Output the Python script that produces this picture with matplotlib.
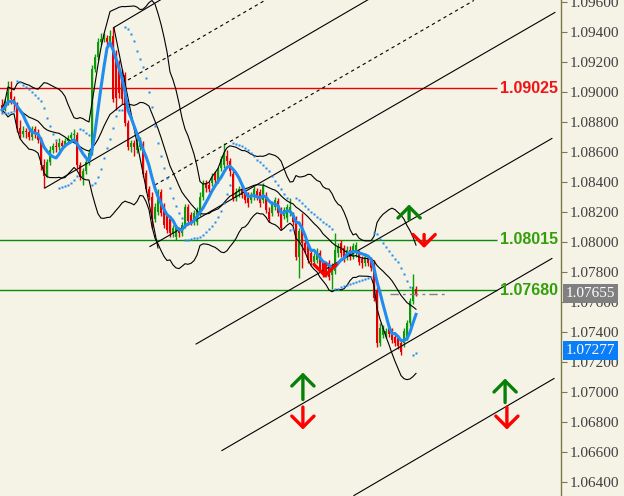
import numpy as np
import pandas as pd
import matplotlib.pyplot as plt

# candle data (EURUSD-like), one bar per index
opens = [1.0891, 1.0888, 1.0892, 1.0900, 1.0895, 1.0892, 1.0876, 1.0872, 1.0874, 1.0873,
         1.0870, 1.0875, 1.0872, 1.0868, 1.0851, 1.0844, 1.0853, 1.0861, 1.0864, 1.0863,
         1.0866, 1.0864, 1.0867, 1.0869, 1.0871, 1.0871, 1.0851, 1.0843, 1.0847, 1.0853,
         1.0859, 1.0915, 1.0923, 1.0933, 1.0935, 1.0936, 1.0933, 1.0937, 1.0925, 1.0918,
         1.0913, 1.0911, 1.0879, 1.0863, 1.0866, 1.0861, 1.0863, 1.0865, 1.0846, 1.0835,
         1.0830, 1.0815, 1.0820, 1.0833, 1.0823, 1.0817, 1.0815, 1.0805, 1.0803, 1.0808,
         1.0806, 1.0811, 1.0823, 1.0818, 1.0813, 1.0813, 1.0819, 1.0830, 1.0839, 1.0838,
         1.0839, 1.0845, 1.0841, 1.0849, 1.0851, 1.0857, 1.0854, 1.0845, 1.0829, 1.0833,
         1.0835, 1.0833, 1.0830, 1.0828, 1.0831, 1.0834, 1.0833, 1.0828, 1.0830, 1.0820,
         1.0819, 1.0823, 1.0827, 1.0821, 1.0817, 1.0816, 1.0819, 1.0818, 1.0815, 1.0790,
         1.0808, 1.0799, 1.0797, 1.0793, 1.0787, 1.0788, 1.0793, 1.0786, 1.0779, 1.0786,
         1.0778, 1.0781, 1.0793, 1.0799, 1.0796, 1.0790, 1.0795, 1.0791, 1.0793, 1.0793,
         1.0789, 1.0786, 1.0789, 1.0788, 1.0786, 1.0768, 1.0733, 1.0738, 1.0738, 1.0743,
         1.0741, 1.0737, 1.0736, 1.0733, 1.0733, 1.0737, 1.0746, 1.0761, 1.0769]
closes = [1.0888, 1.0892, 1.0900, 1.0895, 1.0892, 1.0876, 1.0872, 1.0874, 1.0873, 1.0870,
          1.0875, 1.0872, 1.0868, 1.0851, 1.0844, 1.0853, 1.0861, 1.0864, 1.0863, 1.0866,
          1.0864, 1.0867, 1.0869, 1.0871, 1.0872, 1.0851, 1.0843, 1.0847, 1.0853, 1.0859,
          1.0915, 1.0923, 1.0933, 1.0935, 1.0936, 1.0933, 1.0937, 1.0895, 1.0896, 1.0899,
          1.0895, 1.0879, 1.0863, 1.0866, 1.0863, 1.0866, 1.0867, 1.0845, 1.0835, 1.0830,
          1.0815, 1.0823, 1.0833, 1.0819, 1.0811, 1.0808, 1.0806, 1.0809, 1.0809, 1.0806,
          1.0811, 1.0823, 1.0814, 1.0813, 1.0819, 1.0821, 1.0830, 1.0839, 1.0836, 1.0835,
          1.0843, 1.0841, 1.0848, 1.0855, 1.0858, 1.0854, 1.0847, 1.0829, 1.0833, 1.0835,
          1.0831, 1.0828, 1.0826, 1.0831, 1.0835, 1.0830, 1.0826, 1.0837, 1.0821, 1.0815,
          1.0825, 1.0828, 1.0819, 1.0809, 1.0821, 1.0823, 1.0823, 1.0813, 1.0790, 1.0807,
          1.0799, 1.0795, 1.0788, 1.0787, 1.0791, 1.0793, 1.0783, 1.0779, 1.0783, 1.0777,
          1.0783, 1.0795, 1.0797, 1.0793, 1.0789, 1.0795, 1.0790, 1.0797, 1.0798, 1.0787,
          1.0786, 1.0790, 1.0786, 1.0783, 1.0763, 1.0733, 1.0743, 1.0743, 1.0741, 1.0739,
          1.0735, 1.0733, 1.0731, 1.0727, 1.0741, 1.0746, 1.0761, 1.0770, 1.07655]
highs = [1.0895, 1.0895, 1.0907, 1.0907, 1.0897, 1.0893, 1.0881, 1.0877, 1.0876, 1.0876,
         1.0877, 1.0877, 1.0875, 1.0870, 1.0855, 1.0855, 1.0864, 1.0866, 1.0867, 1.0869,
         1.0868, 1.0869, 1.0871, 1.0873, 1.0875, 1.0873, 1.0853, 1.0849, 1.0855, 1.0861,
         1.0918, 1.0925, 1.0936, 1.0939, 1.0939, 1.0938, 1.0941, 1.0943, 1.0928, 1.0921,
         1.0915, 1.0913, 1.0881, 1.0868, 1.0868, 1.0869, 1.0870, 1.0867, 1.0848, 1.0837,
         1.0833, 1.0826, 1.0835, 1.0835, 1.0826, 1.0819, 1.0817, 1.0811, 1.0811, 1.0810,
         1.0813, 1.0825, 1.0825, 1.0820, 1.0821, 1.0823, 1.0833, 1.0841, 1.0841, 1.0840,
         1.0846, 1.0847, 1.0850, 1.0857, 1.0866, 1.0861, 1.0856, 1.0847, 1.0836, 1.0837,
         1.0837, 1.0836, 1.0833, 1.0833, 1.0837, 1.0836, 1.0835, 1.0839, 1.0833, 1.0823,
         1.0827, 1.0830, 1.0829, 1.0823, 1.0823, 1.0825, 1.0829, 1.0820, 1.0817, 1.0809,
         1.0819, 1.0801, 1.0799, 1.0795, 1.0793, 1.0796, 1.0795, 1.0788, 1.0786, 1.0788,
         1.0786, 1.0806, 1.0799, 1.0801, 1.0798, 1.0797, 1.0797, 1.0799, 1.0800, 1.0795,
         1.0791, 1.0793, 1.0791, 1.0790, 1.0788, 1.0770, 1.0746, 1.0745, 1.0743, 1.0745,
         1.0743, 1.0739, 1.0738, 1.0735, 1.0743, 1.0748, 1.0763, 1.0779, 1.0771]
lows = [1.0886, 1.0887, 1.0891, 1.0892, 1.0888, 1.0873, 1.0869, 1.0870, 1.0869, 1.0868,
        1.0868, 1.0869, 1.0866, 1.0848, 1.0836, 1.0843, 1.0851, 1.0859, 1.0860, 1.0861,
        1.0861, 1.0863, 1.0866, 1.0867, 1.0868, 1.0849, 1.0841, 1.0838, 1.0845, 1.0851,
        1.0858, 1.0913, 1.0921, 1.0931, 1.0933, 1.0931, 1.0932, 1.0893, 1.0888, 1.0896,
        1.0892, 1.0877, 1.0861, 1.0860, 1.0857, 1.0859, 1.0861, 1.0843, 1.0833, 1.0828,
        1.0809, 1.0813, 1.0818, 1.0817, 1.0809, 1.0806, 1.0803, 1.0803, 1.0801, 1.0803,
        1.0804, 1.0809, 1.0811, 1.0811, 1.0811, 1.0811, 1.0817, 1.0828, 1.0833, 1.0833,
        1.0837, 1.0838, 1.0839, 1.0847, 1.0849, 1.0851, 1.0844, 1.0827, 1.0827, 1.0830,
        1.0829, 1.0826, 1.0823, 1.0826, 1.0828, 1.0828, 1.0823, 1.0826, 1.0819, 1.0813,
        1.0817, 1.0821, 1.0817, 1.0808, 1.0815, 1.0813, 1.0817, 1.0811, 1.0788, 1.0776,
        1.0783, 1.0793, 1.0786, 1.0785, 1.0785, 1.0786, 1.0781, 1.0777, 1.0777, 1.0775,
        1.0769, 1.0779, 1.0790, 1.0790, 1.0787, 1.0788, 1.0788, 1.0789, 1.0790, 1.0785,
        1.0783, 1.0784, 1.0784, 1.0781, 1.0761, 1.0730, 1.0731, 1.0736, 1.0736, 1.0737,
        1.0733, 1.0731, 1.0729, 1.0725, 1.0730, 1.0735, 1.0744, 1.0759, 1.0764]

# horizontal price levels
level_prices = [1.09640, 1.09025, 1.08015, 1.07680]
level_colors = ['#ee0000', '#ee0000', '#0a8a0a', '#0a8a0a']
label_colors = ['#f01414', '#f01414', '#33a00a', '#33a00a']

# trendlines (bar index, price)
solid_lines = [((37.3, 1.0943), (56.7, 1.0966)),
               ((14.3, 1.0836), (123.3, 1.0963)),
               ((49.3, 1.0797), (184.3, 1.0953)),
               ((64.7, 1.0732), (183.3, 1.0869)),
               ((73.3, 1.0661), (183.3, 1.0789)),
               ((117.3, 1.0631), (184.0, 1.0709)),
               ((37.3, 1.0943), (52.0, 1.0796))]
dashed_lines = [((42.0, 1.0908), (89.3, 1.0963)),
                ((51.0, 1.0838), (157.3, 1.0961))]

# arrow objects
up_x = [100.3, 167.7, 135.7]
up_from = [1.0695, 1.0693, 1.0815]
up_to = [1.0713, 1.0709, 1.0825]
down_x = [100.3, 168.3, 140.7, 107.7]
down_from = [1.0690, 1.0690, 1.0805, 1.0785]
down_to = [1.0675, 1.0675, 1.0796, 1.0776]

bid_price = 1.07655
sar_label = 1.07277

bg = '#f5f2e6'
bull = '#0a9a0a'
bear = '#e80000'
blue = '#1e8cf0'


def psar(high, low, step=0.02, mx=0.2):
    n = len(high)
    sar = np.zeros(n)
    up = True
    af = step
    ep = high[0]
    sar[0] = low[0]
    for i in range(1, n):
        s = sar[i-1] + af*(ep - sar[i-1])
        if up:
            s = min(s, low[i-1], low[max(i-2, 0)])
            if low[i] < s:
                up = False
                s = ep
                ep = low[i]
                af = step
            elif high[i] > ep:
                ep = high[i]
                af = min(af + step, mx)
        else:
            s = max(s, high[i-1], high[max(i-2, 0)])
            if high[i] > s:
                up = True
                s = ep
                ep = high[i]
                af = step
            elif low[i] < ep:
                ep = low[i]
                af = min(af + step, mx)
        sar[i] = s
    return sar


o = np.array(opens)
c = np.array(closes)
h = np.array(highs)
l = np.array(lows)
x = np.arange(len(c))

s = pd.Series(c)
ma = s.rolling(6, min_periods=1).mean()
mid = s.rolling(20, min_periods=1).mean()
sd = s.rolling(20, min_periods=1).std(ddof=0)
sar = psar(h, l)

fig = plt.figure(figsize=(6.24, 4.96), dpi=100, facecolor=bg)
ax = fig.add_axes([0, 0, 561/624, 1])
ax.set_facecolor(bg)
ax.set_xlim(-2/3, 559/3)
ax.set_ylim(1.06307, 1.09613)

# price levels
for p, lc, tc in zip(level_prices, level_colors, label_colors):
    ax.hlines(p, -1, 165, color=lc, lw=1, zorder=1)
    ax.text(185.3, p, '%.5f' % p, ha='right', va='center', color=tc, fontsize=11.5,
            fontweight='bold', family='Liberation Sans', clip_on=False, zorder=6)

# bollinger bands
for band in [mid + 2*sd, mid, mid - 2*sd]:
    ax.plot(x, band, color='black', lw=0.8, zorder=3)

# trendlines
for (x0, y0), (x1, y1) in solid_lines:
    ax.plot([x0, x1], [y0, y1], color='black', lw=0.8, zorder=3)
for (x0, y0), (x1, y1) in dashed_lines:
    ax.plot([x0, x1], [y0, y1], color='black', lw=0.8, dashes=(3, 3), zorder=3)

# candles
cols = np.where(c >= o, bull, bear)
ax.vlines(x, l, h, colors=cols, lw=1.0, zorder=2)
ax.bar(x, np.maximum(np.abs(c - o), 0.00007), bottom=np.minimum(o, c), width=0.85,
       color=cols, lw=0, zorder=2)

# moving average and parabolic sar
ax.plot(x, ma, color=blue, lw=2.2, zorder=4)
ax.plot(x, sar, 's', ms=1.6, color=blue, mec='none', zorder=5)

# bid line
ax.hlines(bid_price, 129.3, 148.3, color='#808080', lw=1, linestyles=(0, (6, 3, 2, 3)), zorder=3)

# arrows
for xa, a, b in zip(up_x, up_from, up_to):
    ax.annotate('', xy=(xa, b), xytext=(xa, a),
                arrowprops=dict(arrowstyle='->,head_length=0.4,head_width=0.4', lw=2.4,
                                color='#078007', shrinkA=0, shrinkB=0, mutation_scale=20),
                zorder=6)
for xa, a, b in zip(down_x, down_from, down_to):
    ax.annotate('', xy=(xa, b), xytext=(xa, a),
                arrowprops=dict(arrowstyle='->,head_length=0.4,head_width=0.4', lw=2.4,
                                color='#ff0000', shrinkA=0, shrinkB=0, mutation_scale=20),
                zorder=6)

# right price scale
for side in ['left', 'top', 'bottom']:
    ax.spines[side].set_visible(False)
ax.spines['right'].set_color('#7a7a48')
ax.spines['right'].set_linewidth(1)
ax.set_xticks([])
ax.yaxis.tick_right()
ticks = np.arange(1.064, 1.0961, 0.002)
ax.set_yticks(ticks)
ax.set_yticklabels(['%.5f' % t for t in ticks], family='Liberation Serif')
ax.tick_params(axis='y', direction='out', length=4, width=0.8, color='#7a7a48',
               labelcolor='#404040', labelsize=11, pad=2)

tr = ax.get_yaxis_transform()
ax.text(1.0085, bid_price, '%.5f' % bid_price, transform=tr, ha='left', va='center',
        color='white', fontsize=11, family='Liberation Serif', clip_on=False, zorder=10,
        bbox=dict(boxstyle='square,pad=0.2', fc='#808080', ec='none'))
ax.text(1.0085, sar_label, '%.5f' % sar_label, transform=tr, ha='left', va='center',
        color='white', fontsize=11, family='Liberation Serif', clip_on=False, zorder=10,
        bbox=dict(boxstyle='square,pad=0.2', fc='#0a7ef8', ec='none'))

fig.savefig('out.png', dpi=100, facecolor=bg)
